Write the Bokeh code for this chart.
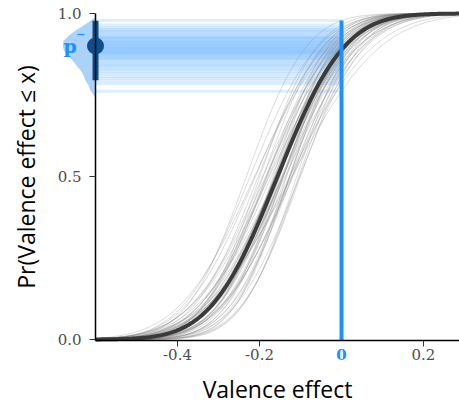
import math
import numpy as np
from bokeh.plotting import figure
from bokeh.models import LinearAxis, FixedTicker, Range1d
from bokeh.core.properties import value
from bokeh.embed import file_html
from bokeh.resources import INLINE

# ---- data ----
# posterior draws of the normal CDF (location, scale) behind the thin grey curves
draw_mu = [-0.121, -0.126, -0.102, -0.118, -0.100, -0.121, -0.138, -0.104, -0.125, -0.143,
           -0.120, -0.158, -0.109, -0.143, -0.135, -0.158, -0.127, -0.146, -0.158, -0.126,
           -0.145, -0.176, -0.142, -0.161, -0.127, -0.171, -0.142, -0.162, -0.151, -0.185,
           -0.142, -0.163, -0.178, -0.134, -0.162, -0.192, -0.159, -0.183, -0.150, -0.181,
           -0.212, -0.164, -0.183, -0.210, -0.167, -0.203, -0.191, -0.223, -0.199, -0.232]
draw_sd = [0.170, 0.160, 0.125, 0.140, 0.115, 0.135, 0.150, 0.110, 0.130, 0.145,
           0.120, 0.155, 0.105, 0.135, 0.125, 0.145, 0.115, 0.130, 0.140, 0.110,
           0.125, 0.150, 0.120, 0.135, 0.105, 0.140, 0.115, 0.130, 0.120, 0.145,
           0.110, 0.125, 0.135, 0.100, 0.120, 0.140, 0.115, 0.130, 0.105, 0.125,
           0.145, 0.110, 0.120, 0.135, 0.105, 0.125, 0.115, 0.130, 0.110, 0.115]
# the thick central curve
center_mu = -0.156
center_sd = 0.128
# summary of p- = Pr(effect <= 0)
p_median = 0.900
p_interval = [0.795, 0.978]
# density of p- (relative height)
dens_p = [0.740, 0.750, 0.764, 0.779, 0.794, 0.810, 0.825, 0.840, 0.856, 0.871,
          0.887, 0.902, 0.917, 0.932, 0.948, 0.963, 0.978, 0.985, 0.990]
dens_h = [0, 2, 5, 7, 10, 12, 15, 19, 23, 28, 32, 33, 32, 27, 20, 12, 5, 2, 0]

x_ticks = [-0.4, -0.2, 0.2]
x_tick_labels = ["-0.4", "-0.2", "0.2"]
y_ticks = [0.0, 0.5, 1.0]
y_tick_labels = ["0.0", "0.5", "1.0"]

X_MIN, X_MAX = -0.6, 0.2878
Y_AXIS_AT = -0.003

def ncdf(x, mu, sd):
    return np.array([0.5 * (1 + math.erf((v - mu) / (sd * math.sqrt(2)))) for v in x])

BLUE = "#1e90ff"
DARKBLUE = "#104e8b"
TITLE_FONT = "Open Sans"
TICK_FONT = "DejaVu Serif"

p = figure(width=459, height=407,
           x_range=Range1d(-0.8317, X_MAX), y_range=Range1d(-0.2086, 1.0399),
           output_backend="svg", toolbar_location=None,
           min_border_left=0, min_border_right=0, min_border_top=0, min_border_bottom=0)
p.outline_line_color = None
p.xgrid.visible = False
p.ygrid.visible = False
p.background_fill_color = "white"
p.border_fill_color = "white"

xs = np.linspace(X_MIN, X_MAX, 240)
draw_p = [float(ncdf([0.0], m, s)[0]) for m, s in zip(draw_mu, draw_sd)]

# density of p- drawn to the left of the y axis
dmax = max(dens_h)
dx = [X_MIN - h / dmax * 0.080 for h in dens_h]
p.patch(dx + [X_MIN, X_MIN], dens_p + [dens_p[-1], dens_p[0]],
        fill_color="#abd3fa", line_color=None)

# horizontal lines at Pr(effect <= 0) for each draw
p.multi_line([[X_MIN, 0.0] for _ in draw_p], [[v, v] for v in draw_p],
             line_color=BLUE, line_alpha=0.15, line_width=3)

# grey CDF draws
p.multi_line([list(xs) for _ in draw_mu],
             [list(ncdf(xs, m, s)) for m, s in zip(draw_mu, draw_sd)],
             line_color="#888888", line_alpha=0.3, line_width=1)

# central curve
p.line(xs, ncdf(xs, center_mu, center_sd), line_color="#3a3a3a", line_width=4)

# vertical line at zero
p.segment(x0=[0.0], y0=[Y_AXIS_AT], x1=[0.0], y1=[max(draw_p)], line_color=BLUE, line_width=4)

# interval + point for p-
p.segment(x0=[X_MIN], y0=[p_interval[0]], x1=[X_MIN], y1=[p_interval[1]],
          line_color=DARKBLUE, line_width=6)
p.scatter([X_MIN], [p_median], size=17, fill_color=DARKBLUE, line_color=None)

p.text(x=[X_MIN - 0.062], y=[p_median], text=["p"], text_font=value("DejaVu Serif"),
       text_font_style="bold", text_font_size="19px", text_color=BLUE,
       text_align="center", text_baseline="middle")
p.text(x=[X_MIN - 0.036], y=[p_median + 0.036], text=["\u2212"], text_font=value("DejaVu Sans"),
       text_font_style="bold", text_font_size="11px", text_color=BLUE,
       text_align="center", text_baseline="middle")

# axes (drawn at fixed data locations inside the full-canvas frame)
ya = p.yaxis[0]
ya.fixed_location = X_MIN
ya.bounds = (Y_AXIS_AT, 1)
ya.ticker = FixedTicker(ticks=y_ticks)
ya.major_label_overrides = {t: l for t, l in zip(y_ticks, y_tick_labels)}
ya.minor_tick_line_color = None
ya.major_tick_in = 0
ya.major_tick_out = 6
ya.major_label_standoff = 8
ya.axis_label = "Pr(Valence effect \u2264 x)"
ya.axis_label_standoff = 13
ya.axis_label_text_font = TITLE_FONT
ya.axis_label_text_font_size = "23px"
ya.axis_label_text_font_style = "normal"
ya.axis_label_text_color = "black"
ya.major_label_text_font = TICK_FONT
ya.major_label_text_font_size = "15px"
ya.major_label_text_color = "#4d4d4d"
ya.axis_line_color = "black"
ya.axis_line_width = 1.5
ya.major_tick_line_color = "#333333"

xa = p.xaxis[0]
xa.fixed_location = Y_AXIS_AT
xa.bounds = (X_MIN, X_MAX)
xa.ticker = FixedTicker(ticks=x_ticks)
xa.major_label_overrides = {t: l for t, l in zip(x_ticks, x_tick_labels)}
xa.minor_tick_line_color = None
xa.major_tick_in = 0
xa.major_tick_out = 6
xa.major_label_standoff = 3
xa.axis_label = "Valence effect"
xa.axis_label_standoff = 9
xa.axis_label_text_font = TITLE_FONT
xa.axis_label_text_font_size = "23px"
xa.axis_label_text_font_style = "normal"
xa.axis_label_text_color = "black"
xa.major_label_text_font = TICK_FONT
xa.major_label_text_font_size = "15px"
xa.major_label_text_color = "#4d4d4d"
xa.axis_line_color = "black"
xa.axis_line_width = 1.5
xa.major_tick_line_color = "#333333"

za = LinearAxis(ticker=FixedTicker(ticks=[0.0]), fixed_location=Y_AXIS_AT,
                axis_line_color=None, major_tick_line_color=None, minor_tick_line_color=None,
                major_tick_out=6, major_tick_in=0, major_label_standoff=3,
                major_label_text_color=BLUE, major_label_text_font_style="bold",
                major_label_text_font=TICK_FONT, major_label_text_font_size="15px")
p.add_layout(za, "below")

open("out.html", "w").write(file_html(p, INLINE))
